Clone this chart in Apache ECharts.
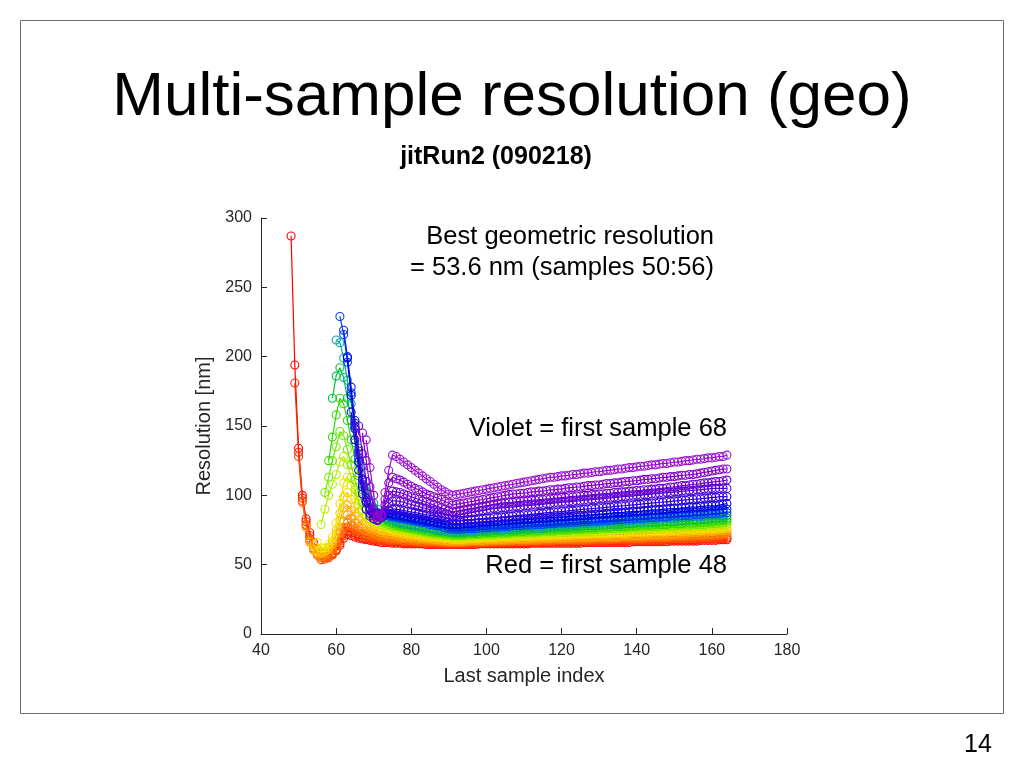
<!DOCTYPE html>
<html>
<head>
<meta charset="utf-8">
<script src="https://cdn.jsdelivr.net/npm/echarts@6/dist/echarts.min.js"></script>
<style>html,body{margin:0;padding:0;background:#fff;}#c{width:1024px;height:768px;}</style>
</head>
<body>
<div id="c"></div>
<script>
// first sample index of each series (red = 48 ... violet = 68)
const firstSample = [48,49,50,51,52,53,54,55,56,57,58,59,60,61,62,63,64,65,66,67,68];

// resolution [nm] per series, starting at last sample index = first sample, ending at 164
const res48 = [287,194,134,100,83,73,66,61,58,57,57,58,60,64,69,72,71,70,69,68.5,68,67.5,67,66.5,66,
 66,66,65.5,65.5,65.5,65,65,65,65,65,65,64.5,64.5,64.5,64.5,64.5,64.5,64.5,64.5,
 64.5,64.5,64.5,64.5,64.5,64.5,
 65,65,65,65,65,65,65,65,65,65,65,65,65,65,
 65.5,65.5,65.5,65.5,65.5,65.5,65.5,65.5,65.5,65.5,65.5,65.5,65.5,65.5,
 66,66,66,66,66,66,66,66,66,66,66,66,66,
 66.5,66.5,66.5,66.5,66.5,66.5,66.5,66.5,66.5,66.5,
 67,67,67,67,67,67,67,67,
 67.5,67.5,67.5,67.5,67.5,
 68,68,68];
const res49 = [181,131,98,81,71,64,58.5,56,55.5,56,57.5,60.5,65.5,71,74,73,71.5,70.5,69.5,69,68.5,68,67.5,67.5,
 67,67,66.5,66.5,66.5,66,66,66,65.5,65.5,65.5,65.5,65.5,65,65,65,65,65,65,
 65,65,65,65,65,
 65.5,65.5,65.5,65.5,65.5,65.5,65.5,65.5,65.5,65.5,
 66,66,66,66,66,66,66,66,66,66,66,
 66.5,66.5,66.5,66.5,66.5,66.5,66.5,66.5,66.5,66.5,
 67,67,67,67,67,67,67,67,67,67,
 67.5,67.5,67.5,67.5,67.5,67.5,67.5,67.5,67.5,67.5,
 68,68,68,68,68,68,68,68,68,
 68.5,68.5,68.5,68.5,68.5,
 69,69,69];
const res50 = [128,96,79,69,62,57,53.6,54,55,57,61,67,74,77,75.5,74,72.5,71.5,70.5,70,69,68.5,68,
 68,67.5,67.5,67,67,67,66.5,66.5,66.5,66,66,66,66,66,65.5,65.5,65.5,65.5,65.5,
 65.5,65.5,65.5,65.5,
 66,66,66,66,66,66,66,66,66,
 66.5,66.5,66.5,66.5,66.5,66.5,66.5,66.5,66.5,
 67,67,67,67,67,67,67,67,67,
 67.5,67.5,67.5,67.5,67.5,67.5,67.5,67.5,67.5,
 68,68,68,68,68,68,68,68,68,
 68.5,68.5,68.5,68.5,68.5,68.5,68.5,68.5,68.5,
 69,69,69,69,69,69,69,
 69.5,69.5,69.5,69.5,69.5,
 70,70,70];
const res51 = [95,78,68,61,57,55,55,56,58.5,63,69.5,77,80,78,76,74.5,73,72,71,70.5,70,69.5,
 69,68.5,68.5,68,68,67.5,67.5,67.5,67,67,67,66.5,66.5,66.5,66.5,66,66,66,66,
 66,66,66,66,
 66.5,66.5,66.5,66.5,66.5,66.5,66.5,
 67,67,67,67,67,67,67,67,
 67.5,67.5,67.5,67.5,67.5,67.5,67.5,67.5,
 68,68,68,68,68,68,68,68,
 68.5,68.5,68.5,68.5,68.5,68.5,68.5,68.5,
 69,69,69,69,69,69,69,69,
 69.5,69.5,69.5,69.5,69.5,69.5,69.5,
 70,70,70,70,70,70,
 70.5,70.5,70.5,70.5,
 71,71,71,
 71.5,71.5];
const res52 = [77,67,60.5,57.5,56,56.5,58,61,66,73,81,86,83,80,77.5,76,74.5,73.5,72.5,71.5,71,
 70.5,70,69.5,69.5,69,69,68.5,68.5,68,68,68,67.5,67.5,67.5,67,67,67,66.5,66.5,
 66.5,66.5,66.5,
 67,67,67,67,67,67,
 67.5,67.5,67.5,67.5,67.5,67.5,67.5,
 68,68,68,68,68,68,68,
 68.5,68.5,68.5,68.5,68.5,68.5,68.5,
 69,69,69,69,69,69,69,
 69.5,69.5,69.5,69.5,69.5,69.5,69.5,
 70,70,70,70,70,70,70,
 70.5,70.5,70.5,70.5,70.5,70.5,
 71,71,71,71,71,
 71.5,71.5,71.5,71.5,
 72,72,72,
 72.5,72.5,
 73,73];
const res53 = [66,61,58.5,58,59,61,65,72,82,91,93,89,85,82,79.5,77.5,76,75,74,73,
 72.5,72,71.5,71,70.5,70,70,69.5,69.5,69,69,68.5,68.5,68,68,67.5,67.5,67,67,
 67,67,67,
 67.5,67.5,67.5,67.5,67.5,
 68,68,68,68,68,68,
 68.5,68.5,68.5,68.5,68.5,68.5,
 69,69,69,69,69,69,
 69.5,69.5,69.5,69.5,69.5,69.5,
 70,70,70,70,70,70,
 70.5,70.5,70.5,70.5,70.5,70.5,
 71,71,71,71,71,71,
 71.5,71.5,71.5,71.5,71.5,
 72,72,72,72,
 72.5,72.5,72.5,
 73,73,73,
 73.5,73.5,73.5,
 74,74,
 74.5,74.5,74.5];
const res54 = [64,60,59,60,62.5,67,75,87,99,102,97,92,87.5,84,81,79,77.5,76,75,
 74.5,74,73.5,73,72.5,72,71.5,71,71,70.5,70,70,69.5,69.5,69,69,68.5,68.5,68,
 68,68,68,
 68.5,68.5,68.5,68.5,
 69,69,69,69,69,
 69.5,69.5,69.5,69.5,69.5,
 70,70,70,70,70,
 70.5,70.5,70.5,70.5,70.5,
 71,71,71,71,71,
 71.5,71.5,71.5,71.5,71.5,
 72,72,72,72,72,
 72.5,72.5,72.5,72.5,72.5,
 73,73,73,73,73,
 73.5,73.5,73.5,73.5,73.5,
 74,74,74,74,74,
 74.5,74.5,74.5,74.5,
 75,75,75,
 75.5,75.5,
 76,76];
const res55 = [66,62,62,64.5,70,80,94,109,113,107,100,94,89,85.5,83,81,79.5,78,
 77,76,75,74.5,74,73.5,73,72.5,72,71.5,71.5,71,70.5,70.5,70,70,69.5,69.5,69,
 69,69,69,
 69.5,69.5,69.5,69.5,
 70,70,70,70,
 70.5,70.5,70.5,70.5,70.5,
 71,71,71,71,71,
 71.5,71.5,71.5,71.5,71.5,
 72,72,72,72,72,
 72.5,72.5,72.5,72.5,72.5,
 73,73,73,73,73,
 73.5,73.5,73.5,73.5,73.5,
 74,74,74,74,74,
 74.5,74.5,74.5,74.5,74.5,
 75,75,75,75,
 75.5,75.5,75.5,75.5,
 76,76,76,
 76.5,76.5,76.5,
 77,77,
 77.5];
const res56 = [79,90,100,108,115,124,128,122,113,104,96,90,86,83.5,81.5,80,79,
 78.5,78,77,76.5,76,75.5,75,74.5,74,73.5,73,72.5,72,72,71.5,71,71,70.5,70,
 70,70,70,70,
 70.5,70.5,70.5,70.5,
 71,71,71,71,
 71.5,71.5,71.5,71.5,
 72,72,72,72,
 72.5,72.5,72.5,72.5,
 73,73,73,73,
 73.5,73.5,73.5,73.5,
 74,74,74,74,
 74.5,74.5,74.5,74.5,
 75,75,75,75,
 75.5,75.5,75.5,75.5,
 76,76,76,76,
 76.5,76.5,76.5,76.5,
 77,77,77,77,
 77.5,77.5,77.5,77.5,
 78,78,78,
 78.5,78.5,78.5,
 79,79,79];
const res57 = [102,113,125,135,146,143,133,122,111,102,95,89.5,86,83.5,82,81,
 80,79,78,77.5,77,76.5,76,75.5,75,74.5,74,73.5,73,72.5,72.5,72,71.5,71.5,71,
 71,71,71,
 71.5,71.5,71.5,71.5,
 72,72,72,72,
 72.5,72.5,72.5,72.5,
 73,73,73,73,
 73.5,73.5,73.5,73.5,
 74,74,74,74,
 74.5,74.5,74.5,74.5,
 75,75,75,75,
 75.5,75.5,75.5,75.5,
 76,76,76,76,
 76.5,76.5,76.5,76.5,
 77,77,77,77,
 77.5,77.5,77.5,77.5,
 78,78,78,78,
 78.5,78.5,78.5,78.5,
 79,79,79,79,
 79.5,79.5,79.5,
 80,80,
 80.5];
const res58 = [125,142,158,170,166,154,140,126,114,104,96,90.5,87,84.5,83,
 81.5,80.5,79.5,78.5,78,77.5,77,76.5,76,75.5,75,74.5,74,73.5,73.5,73,72.5,72.5,72,
 72,72,72,
 72.5,72.5,72.5,72.5,
 73,73,73,73,
 73.5,73.5,73.5,73.5,
 74,74,74,74,
 74.5,74.5,74.5,74.5,
 75,75,75,75,
 75.5,75.5,75.5,75.5,
 76,76,76,
 76.5,76.5,76.5,76.5,
 77,77,77,77,
 77.5,77.5,77.5,77.5,
 78,78,78,
 78.5,78.5,78.5,78.5,
 79,79,79,79,
 79.5,79.5,79.5,79.5,
 80,80,80,
 80.5,80.5,80.5,
 81,81,
 81.5,81.5,
 82,82];
const res59 = [170,186,192,185,170,154,138,124,112,103,96,91,87.5,85,
 83,82,81,80,79.5,79,78.5,78,77.5,77,76.5,76,75.5,75,74.5,74,74,73.5,73,
 73,73,73,
 73.5,73.5,73.5,
 74,74,74,74,
 74.5,74.5,74.5,
 75,75,75,75,
 75.5,75.5,75.5,
 76,76,76,76,
 76.5,76.5,76.5,
 77,77,77,77,
 77.5,77.5,77.5,
 78,78,78,78,
 78.5,78.5,78.5,
 79,79,79,79,
 79.5,79.5,79.5,
 80,80,80,80,
 80.5,80.5,80.5,
 81,81,81,81,
 81.5,81.5,81.5,
 82,82,82,
 82.5,82.5,82.5,
 83,83,
 83.5,83.5,83.5];
const res60 = [212,210,199,183,166,149,134,121,110,101,94.5,90,87,
 85,83.5,82.5,81.5,80.5,80,79.5,79,78.5,78,77.5,77,76.5,76,75.5,75,75,74.5,74,
 74,74,74,74.5,74.5,74.5,75,75,75,75.5,75.5,75.5,
 76,76,76,76.5,76.5,76.5,77,77,77,77.5,77.5,77.5,
 78,78,78,78.5,78.5,78.5,79,79,79,79.5,79.5,79.5,
 80,80,80,80.5,80.5,80.5,81,81,81,81.5,81.5,81.5,
 82,82,82,82.5,82.5,82.5,83,83,83,83.5,83.5,83.5,
 84,84,84,84.5,84.5,84.5,85,85,85,
 85.5,85.5,85.5,85.5];
const res61 = [229,216,196,174,150,127,108,96,90,87.5,86.5,86,
 85.5,85,84.5,84,83.5,83,82.5,82,81.5,81,80.5,80,79,78.5,78,77.5,76.5,76,75.5,
 75.5,75.5,75.5,76,76,76,76.5,76.5,76.5,77,77,77,
 77.5,77.5,77.5,78,78,78,78.5,78.5,78.5,79,79,79,
 79.5,79.5,79.5,80,80,80,80.5,80.5,80.5,81,81,81,
 81.5,81.5,81.5,82,82,82,82.5,82.5,82.5,83,83,83,
 83.5,83.5,83.5,84,84,84,84.5,84.5,84.5,85,85,85,
 85.5,85.5,85.5,86,86,86,86.5,86.5,86.5,
 87,87,87.5,87.5];
const res62 = [219,200,178,154,130,111,98,91,88,87,86.5,
 86.5,86,85.5,85,84.5,84,83.5,83,82.5,82,81.5,81,80.5,80,79.5,79,78.5,77.5,77,
 77,77,77,77.5,77.5,77.5,78,78,78,78.5,78.5,78.5,
 79,79,79,79.5,79.5,79.5,80,80,80,80.5,80.5,80.5,
 81,81,81,81.5,81.5,81.5,82,82,82,82.5,82.5,82.5,
 83,83,83.5,83.5,83.5,84,84,84,84.5,84.5,84.5,
 85,85,85.5,85.5,85.5,86,86,86,86.5,86.5,86.5,
 87,87,87.5,87.5,87.5,88,88,88,
 88.5,88.5,89,89,89.5,89.5,90];
const res63 = [199,172,148,124,106,95,89,86.5,86,86.5,
 87.5,87,86.5,86,85.5,85,84.5,84,83.5,83,82.5,82,81.5,81,80.5,80,79.5,79,79,
 79,79,79.5,79.5,79.5,80,80,80.5,80.5,80.5,
 81,81,81.5,81.5,81.5,82,82,82.5,82.5,82.5,
 83,83,83.5,83.5,83.5,84,84,84.5,84.5,84.5,
 85,85,85.5,85.5,85.5,86,86,86.5,86.5,86.5,
 87,87,87.5,87.5,87.5,88,88,88.5,88.5,88.5,
 89,89,89.5,89.5,89.5,90,90,90.5,90.5,90.5,
 91,91,91.5,91.5,91.5,92,92,92.5,92.5,92.5,
 93,93.5,94];
const res64 = [160,140,118,101,90,85,83,82.5,84,87,89,90,90,
 89.5,89,88.5,88,87.5,87,86.5,86,85.5,85,84.5,84,83.5,83,82,
 82,82,82,82.5,82.5,82.5,
 83,83,83.5,83.5,84,84,84.5,84.5,85,85,85.5,85.5,
 86,86,86.5,86.5,87,87,87.5,87.5,88,88,88.5,88.5,
 89,89,89.5,89.5,90,90,90.5,90.5,91,91,91.5,91.5,
 92,92,92.5,92.5,93,93,93.5,93.5,94,94,94.5,94.5,
 95,95,95.5,95.5,96,96,96.5,96.5,97,97,97.5,97.5,
 98,98,98.5,98.5,
 99,99,99];
const res65 = [152,132,112,96,87,83,82,84,89,94,96,96,
 95.5,95,94,93.5,92.5,92,91,90.5,89.5,89,88,87.5,86.5,86,85,
 85.5,86,86.5,87,87.5,88,88.5,89,89.5,90,
 90.5,90.5,91,91,91.5,91.5,92,92,92.5,92.5,93,93,
 93.5,93.5,94,94,94.5,94.5,95,95,95.5,95.5,96,96,
 96.5,96.5,97,97,97.5,97.5,98,98,98.5,98.5,99,99,
 99.5,99.5,100,100,100.5,100.5,101,101,101.5,101.5,102,102,
 102.5,102.5,103,103,103.5,103.5,104,104,104.5,104.5,
 105,105,105,105,105];
const res66 = [150,130,110,94,85,82,85,93,100,103,102.5,
 102,101,100,99,98,97,96,95,94,93,92,91,90,89,88,
 88.5,89,89.5,90,90.5,91,91.5,92,92.5,93,93.5,94,
 94.5,94.5,95,95,95.5,95.5,96,96,96.5,96.5,97,97,
 97.5,97.5,98,98,98.5,98.5,99,99,99.5,99.5,100,100,
 100.5,100.5,101,101,101.5,101.5,102,102,102.5,102.5,103,103,
 103.5,103.5,104,104,104.5,104.5,105,105,
 105.5,106,106,106.5,107,107,107.5,108,108,108.5,109,109,109.5,110,110,110.5,111];
const res67 = [145,125,106,90,82,85,97,109,113,112,
 111,109.5,108,106.5,105,104,102.5,101,100,99,98,97,95.5,94.5,93,
 93.5,94,94.5,95,95.5,96,96.5,97,97.5,98,98.5,99,99.5,100,100.5,
 101,101,101.5,101.5,102,102.5,102.5,103,103,103.5,
 104,104,104.5,104.5,105,105.5,105.5,106,106,106.5,
 107,107,107.5,107.5,108,108.5,108.5,109,109,109.5,
 110,110,110.5,110.5,111,111.5,111.5,112,112,112.5,
 113,113,113.5,113.5,114,114.5,114.5,115,115,115.5,
 116,116.5,117,117.5,118,118.5,119,119];
const res68 = [140,120,100,84,86,102,118,129,128,
 126,124,122,120,118,116,114,112,110,108,106,104,102.5,101,100,
 100.5,101,101.5,102,102.5,103,103.5,104,104.5,105,105.5,106,
 106.5,107,107.5,108,108.5,109,109.5,110,110.5,111,111.5,112,
 112.5,113,113,113.5,114,114,114.5,115,115,115.5,116,116,
 116.5,117,117,117.5,118,118,118.5,119,119,119.5,120,120,
 120.5,121,121,121.5,122,122,122.5,123,123,123.5,124,124,
 124.5,125,125,125.5,126,126,126.5,127,127,127.5,128,128,
 129];

const resolutionSeries = [res48,res49,res50,res51,res52,res53,res54,res55,res56,res57,res58,
  res59,res60,res61,res62,res63,res64,res65,res66,res67,res68];

// colour of each series, red -> violet
const seriesColors = ['#ff0000','#ff2200','#ff4400','#ff6600','#ff8800','#ffaa00','#ffcc00',
  '#e8e800','#b4ee00','#70e800','#30d800','#00c040','#00a8a0','#0040ff','#0020ee','#0000dd',
  '#3000dd','#5000d8','#6a00d0','#8400cc','#9a10d0'];

const chart = echarts.init(document.getElementById('c'), null, {renderer:'canvas'});
const FONT = 'Liberation Sans, Arial, Helvetica, sans-serif';
const AX = '#262626';

const series = resolutionSeries.map((vals, i) => {
  const s = firstSample[i];
  const c = seriesColors[i];
  return {
    type: 'line',
    name: 'first ' + s,
    data: vals.map((v, k) => [s + k, v]),
    symbol: 'circle',
    symbolSize: 8,
    showSymbol: true,
    showAllSymbol: true,
    silent: true,
    lineStyle: {color: c, width: 1.2},
    itemStyle: {color: 'rgba(0,0,0,0)', borderColor: c, borderWidth: 1.1},
    emphasis: {disabled: true},
    z: 2 + i * 0.01
  };
});

chart.setOption({
  animation: false,
  backgroundColor: '#ffffff',
  textStyle: {fontFamily: FONT},
  grid: {left: 261, right: 237, top: 218, bottom: 134, containLabel: false},
  xAxis: {
    type: 'value', min: 40, max: 180, interval: 20,
    axisLine: {show: true, lineStyle: {color: AX, width: 1}},
    axisTick: {show: true, inside: true, length: 6, lineStyle: {color: AX}},
    axisLabel: {color: AX, fontSize: 16, fontFamily: FONT, margin: 9},
    splitLine: {show: false},
    name: 'Last sample index', nameLocation: 'middle', nameGap: 32,
    nameTextStyle: {color: AX, fontSize: 20, fontFamily: FONT}
  },
  yAxis: {
    type: 'value', min: 0, max: 300, interval: 50,
    axisLine: {show: true, lineStyle: {color: AX, width: 1}},
    axisTick: {show: true, inside: true, length: 6, lineStyle: {color: AX}},
    axisLabel: {color: AX, fontSize: 16, fontFamily: FONT, margin: 9, padding: [3, 0, 0, 0]},
    splitLine: {show: false},
    name: 'Resolution [nm]', nameLocation: 'middle', nameGap: 39,
    nameTextStyle: {color: AX, fontSize: 20, fontFamily: FONT}
  },
  series: series,
  graphic: [
    {type: 'rect', silent: true, z: 0,
     shape: {x: 20.5, y: 20.5, width: 983, height: 693},
     style: {fill: 'none', stroke: '#6e6e6e', lineWidth: 1}},
    {type: 'text', silent: true, x: 512, y: 98,
     style: {text: 'Multi-sample resolution (geo)', font: '62px ' + FONT, fill: '#000',
             textAlign: 'center', textVerticalAlign: 'middle'}},
    {type: 'text', silent: true, x: 496, y: 157,
     style: {text: 'jitRun2 (090218)', font: 'bold 25px ' + FONT, fill: '#000',
             textAlign: 'center', textVerticalAlign: 'middle'}},
    {type: 'text', silent: true, x: 714, y: 237,
     style: {text: 'Best geometric resolution', font: '25.5px ' + FONT, fill: '#000',
             textAlign: 'right', textVerticalAlign: 'middle'}},
    {type: 'text', silent: true, x: 714, y: 268,
     style: {text: '= 53.6 nm (samples 50:56)', font: '25.5px ' + FONT, fill: '#000',
             textAlign: 'right', textVerticalAlign: 'middle'}},
    {type: 'text', silent: true, x: 727, y: 429,
     style: {text: 'Violet = first sample 68', font: '25.5px ' + FONT, fill: '#000',
             textAlign: 'right', textVerticalAlign: 'middle'}},
    {type: 'text', silent: true, x: 727, y: 566,
     style: {text: 'Red = first sample 48', font: '25.5px ' + FONT, fill: '#000',
             textAlign: 'right', textVerticalAlign: 'middle'}},
    {type: 'text', silent: true, x: 978, y: 745,
     style: {text: '14', font: '25px ' + FONT, fill: '#000',
             textAlign: 'center', textVerticalAlign: 'middle'}}
  ]
});
</script>
</body>
</html>
